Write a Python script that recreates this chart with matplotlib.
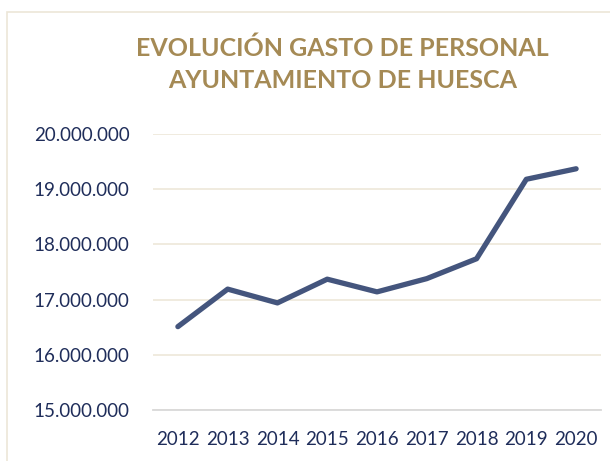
import matplotlib
matplotlib.use("Agg")
import matplotlib.pyplot as plt
from matplotlib.ticker import FuncFormatter, FixedLocator
from matplotlib.patches import Rectangle

years = ["2012", "2013", "2014", "2015", "2016", "2017", "2018", "2019", "2020"]
gasto = [16510000, 17190000, 16940000, 17370000, 17140000, 17380000, 17740000, 19180000, 19370000]
yticks = [15000000, 16000000, 17000000, 18000000, 19000000, 20000000]

plt.rcParams['font.family'] = ['Lato', 'DejaVu Sans']

fig = plt.figure(figsize=(6.1, 4.61), dpi=100)
fig.patch.set_facecolor("white")
# chart border
fig.add_artist(Rectangle((7/610, -0.01), 1.0, 1 - 12/461 + 0.01, transform=fig.transFigure,
                         fill=False, edgecolor="#ece6d8", linewidth=1.2))

ax = fig.add_axes([153/610, 1 - 410/461, 448/610, 276/461])
x = list(range(len(years)))
ax.plot(x, gasto, color="#44557d", linewidth=3.8, solid_capstyle="round", solid_joinstyle="round", zorder=3)

ax.set_xlim(-0.5, len(years) - 0.5)
ax.set_ylim(15000000, 20000000)
ax.yaxis.set_major_locator(FixedLocator(yticks))
ax.yaxis.set_major_formatter(FuncFormatter(lambda v, p: f"{int(v):,}".replace(",", ".")))
ax.set_xticks(x)
ax.set_xticklabels(years)

for s in ["top", "right", "left"]:
    ax.spines[s].set_visible(False)
ax.spines["bottom"].set_color("#d9d9d9")
ax.spines["bottom"].set_linewidth(1.3)
ax.grid(axis="y", color="#efe9dc", linewidth=1.3, zorder=0)
ax.tick_params(axis="both", length=0, labelsize=13.5, labelcolor="#1f2d5a")
ax.tick_params(axis="y", pad=17)
ax.tick_params(axis="x", pad=15)

fig.text(0.562, 1 - 64.5/461, "EVOLUCIÓN GASTO DE PERSONAL\nAYUNTAMIENTO DE HUESCA",
         ha="center", va="center", fontsize=18, fontweight="bold", color="#a58a55",
         linespacing=1.45)

fig.savefig("out.png", dpi=100)
